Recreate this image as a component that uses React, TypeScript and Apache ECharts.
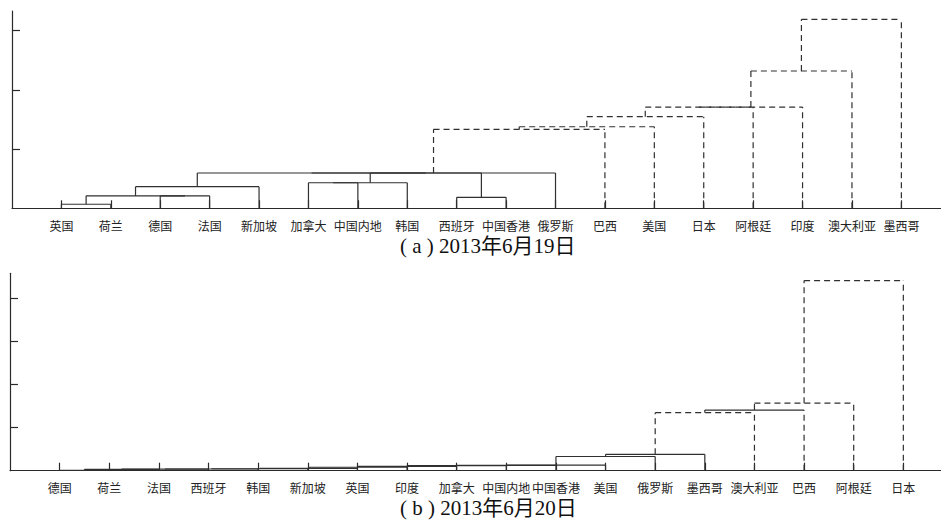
import React, { useEffect, useRef } from "react";
import * as echarts from "echarts";

// ---------- data ----------
const leavesA = ["英国", "荷兰", "德国", "法国", "新加坡", "加拿大", "中国内地", "韩国", "西班牙", "中国香港", "俄罗斯", "巴西", "美国", "日本", "阿根廷", "印度", "澳大利亚", "墨西哥"];
// merges: ids 1..18 are leaves, 19.. are merges (in order)
const mergeLeftA = [1, 3, 19, 21, 6, 23, 9, 24, 22, 27, 28, 29, 30, 31, 32, 33, 34];
const mergeRightA = [2, 4, 20, 5, 7, 8, 10, 25, 26, 11, 12, 13, 14, 15, 16, 17, 18];
const mergeHeightA = [0.068, 0.21, 0.21, 0.365, 0.432, 0.432, 0.186, 0.596, 0.596, 0.596, 1.334, 1.378, 1.547, 1.71, 1.71, 2.319, 3.193];
const dashedVA = [0, 0, 0, 0, 0, 0, 0, 0, 0, 0, 1, 1, 1, 1, 1, 1, 1];
const dashedHA = [0, 0, 0, 0, 0, 0, 0, 0, 0, 0, 1, 1, 1, 1, 1, 1, 1];

const leavesB = ["德国", "荷兰", "法国", "西班牙", "韩国", "新加坡", "英国", "印度", "加拿大", "中国内地", "中国香港", "美国", "俄罗斯", "墨西哥", "澳大利亚", "巴西", "阿根廷", "日本"];
const mergeLeftB = [1, 19, 20, 21, 22, 23, 24, 25, 26, 27, 28, 29, 30, 31, 32, 33, 34];
const mergeRightB = [2, 3, 4, 5, 6, 7, 8, 9, 10, 11, 12, 13, 14, 15, 16, 17, 18];
const mergeHeightB = [0.01, 0.03, 0.035, 0.04, 0.045, 0.055, 0.08, 0.1, 0.12, 0.125, 0.13, 0.33, 0.38, 1.35, 1.41, 1.57, 4.42];
const dashedVB = [0, 0, 0, 0, 0, 0, 0, 0, 0, 0, 0, 0, 0, 1, 1, 1, 1];
const dashedHB = [0, 0, 0, 0, 0, 0, 0, 0, 0, 0, 0, 0, 0, 1, 0, 1, 1];

const captionA = "( a ) 2013年6月19日";
const captionB = "( b ) 2013年6月20日";
const yTicksA = [1, 2, 3];
const yTicksB = [1, 2, 3, 4];

// ---------- helpers ----------
function buildLinks(n: number, L: number[], R: number[], H: number[], dv: number[], dh: number[]) {
  const pos: Record<number, [number, number]> = {};
  for (let i = 1; i <= n; i++) pos[i] = [i, 0];
  const out: number[][] = [];
  for (let k = 0; k < L.length; k++) {
    const a = pos[L[k]];
    const b = pos[R[k]];
    out.push([a[0], a[1], b[0], b[1], H[k], dv[k], dh[k]]);
    pos[n + 1 + k] = [(a[0] + b[0]) / 2, H[k]];
  }
  return out;
}

const INK = "#2a2a2a";
const LINK = "#303030";

function renderLink(params: any, api: any) {
  const xl = api.value(0), hl = api.value(1), xr = api.value(2), hr = api.value(3), h = api.value(4);
  const dv = api.value(5), dh = api.value(6);
  const p1 = api.coord([xl, hl]);
  const p2 = api.coord([xl, h]);
  const p3 = api.coord([xr, h]);
  const p4 = api.coord([xr, hr]);
  const sv = { stroke: LINK, lineWidth: 1.2, lineDash: dv ? [6, 4] : null, fill: null };
  const sh = { stroke: LINK, lineWidth: 1.2, lineDash: dh ? [6, 4] : null, fill: null };
  return {
    type: "group",
    children: [
      { type: "line", shape: { x1: p1[0], y1: p1[1], x2: p2[0], y2: p2[1] }, style: sv },
      { type: "line", shape: { x1: p2[0], y1: p2[1], x2: p3[0], y2: p3[1] }, style: sh },
      { type: "line", shape: { x1: p4[0], y1: p4[1], x2: p3[0], y2: p3[1] }, style: sv },
    ],
  };
}

const leafTicks = leavesA.map((_, i) => i + 1);

function xAxisFor(idx: number, leaves: string[]) {
  return {
    type: "value",
    gridIndex: idx,
    min: 0,
    max: 19,
    interval: 1,
    axisLine: { show: true, onZero: false, lineStyle: { color: INK, width: 1.2 } },
    axisTick: { show: true, inside: true, length: 8, customValues: leafTicks, lineStyle: { color: INK, width: 1.2 } },
    splitLine: { show: false },
    axisLabel: {
      show: true,
      customValues: leafTicks,
      margin: 11,
      fontSize: 12,
      color: "#222",
      fontFamily: "Noto Sans CJK SC",
      formatter: (v: number) => leaves[Math.round(v) - 1] || "",
    },
  };
}

function yAxisFor(idx: number, max: number, ticks: number[]) {
  return {
    type: "value",
    gridIndex: idx,
    min: 0,
    max,
    interval: 1,
    axisLine: { show: true, onZero: false, lineStyle: { color: INK, width: 1.2 } },
    axisTick: { show: true, inside: true, length: 8, customValues: ticks, lineStyle: { color: INK, width: 1.2 } },
    splitLine: { show: false },
    axisLabel: { show: false },
  };
}

export default function App() {
  const ref = useRef<HTMLDivElement>(null);
  useEffect(() => {
    if (!ref.current) return;
    const chart = echarts.init(ref.current, null, { renderer: "svg" });
    const linksA = buildLinks(leavesA.length, mergeLeftA, mergeRightA, mergeHeightA, dashedVA, dashedHA);
    const linksB = buildLinks(leavesB.length, mergeLeftB, mergeRightB, mergeHeightB, dashedVB, dashedHB);
    chart.setOption({
      animation: false,
      backgroundColor: "#ffffff",
      grid: [
        { left: 12, top: 11, right: 941 - 12 - 19 * 49.41, height: 197.3, containLabel: false, outerBoundsMode: "none" },
        { left: 10, top: 273.3, right: 941 - 10 - 19 * 49.63, height: 197.4, containLabel: false, outerBoundsMode: "none" },
      ],
      xAxis: [xAxisFor(0, leavesA), xAxisFor(1, leavesB)],
      yAxis: [yAxisFor(0, 3.333, yTicksA), yAxisFor(1, 4.59, yTicksB)],
      series: [
        { type: "custom", xAxisIndex: 0, yAxisIndex: 0, renderItem: renderLink, data: linksA, silent: true },
        { type: "custom", xAxisIndex: 1, yAxisIndex: 1, renderItem: renderLink, data: linksB, silent: true },
      ],
      graphic: [
        {
          type: "text",
          x: 400,
          y: 246,
          style: { text: captionA, fontSize: 21, fill: "#111", align: "left", verticalAlign: "middle", fontFamily: "Liberation Serif, Noto Sans CJK SC" },
        },
        {
          type: "text",
          x: 400,
          y: 508,
          style: { text: captionB, fontSize: 21, fill: "#111", align: "left", verticalAlign: "middle", fontFamily: "Liberation Serif, Noto Sans CJK SC" },
        },
      ],
    });
    return () => chart.dispose();
  }, []);
  return (
    <div
      ref={ref}
      style={{ position: "fixed", left: 0, top: 0, width: 941, height: 520, background: "#fff" }}
    />
  );
}
